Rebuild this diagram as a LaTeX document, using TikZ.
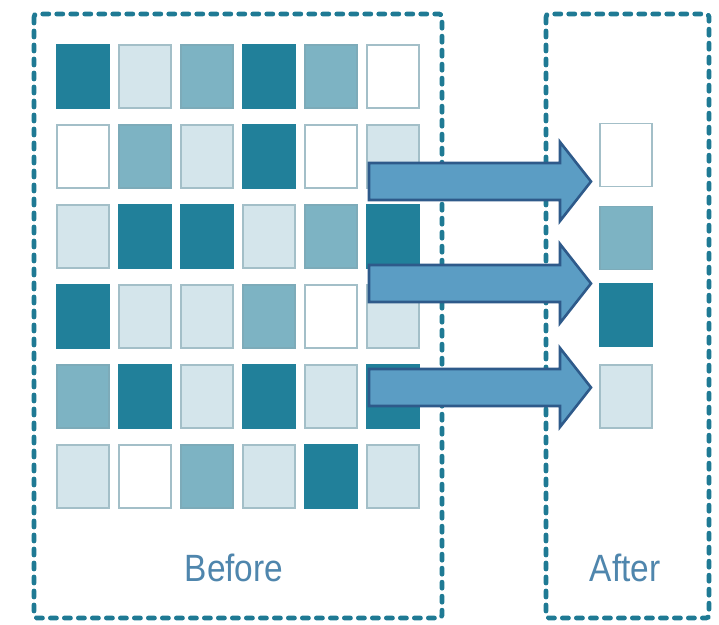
\documentclass[tikz,border=0pt]{standalone}
\usepackage{fontspec}
\setmainfont{Liberation Sans}
\definecolor{cdark}{HTML}{21809A}
\definecolor{cmed}{HTML}{7DB3C3}
\definecolor{clight}{HTML}{D4E5EB}
\definecolor{cline}{HTML}{A3BFC8}
\definecolor{cbox}{HTML}{1F7A94}
\definecolor{carrow}{HTML}{5B9DC4}
\definecolor{carrowline}{HTML}{2E5A8A}
\definecolor{ctext}{HTML}{4F86AD}
\tikzset{
  sq/.style={rectangle, minimum width=52pt, minimum height=63pt, inner sep=0pt, line width=1.5pt, draw=cline},
  D/.style={sq, fill=cdark, draw=cdark},
  M/.style={sq, fill=cmed, draw=cmed!85!gray},
  L/.style={sq, fill=clight},
  W/.style={sq, fill=white},
  dbox/.style={draw=cbox, line width=4.8pt, line cap=round, dash pattern=on 6pt off 8pt, rounded corners=3pt},
  bigarr/.style={fill=carrow, draw=carrowline, line width=2.6pt, line join=miter},
  lbl/.style={text=ctext, font=\fontsize{38}{40}\selectfont, xscale=0.88, anchor=base}
}
\begin{document}
\begin{tikzpicture}[x=1pt,y=-1pt]
\useasboundingbox (0,0) rectangle (719,624);
\fill[white] (0,0) rectangle (719,624);
% dashed frames
\draw[dbox] (34,14) rectangle (442,618);
\draw[dbox] (546,14) rectangle (709,618);
% grid
\foreach \r/\y/\row in {1/76.5/{D,L,M,D,M,W},2/156.5/{W,M,L,D,W,L},3/236.5/{L,D,D,L,M,D},4/316.5/{D,L,L,M,W,L},5/396.5/{M,D,L,D,L,D},6/476.5/{L,W,M,L,D,L}}{
  \foreach \s [count=\c] in \row {
    \node[\s] (b\r\c) at ({83+62*(\c-1)},\y) {};
  }
}
% after column
\node[W] (a1) at (626,155) {};
\node[M] (a2) at (626,238) {};
\node[D] (a3) at (626,315) {};
\node[L] (a4) at (626,396.5) {};
% arrows
\foreach \cy in {181.5,283.5,387.5}{
  \draw[bigarr] (369,\cy-18.5) -- (560,\cy-18.5) -- (560,\cy-39.5) -- (591,\cy) -- (560,\cy+39.5) -- (560,\cy+18.5) -- (369,\cy+18.5) -- cycle;
}
% labels
\node[lbl] (before) at (234,581) {Before};
\node[lbl] (after) at (625,581) {After};
\end{tikzpicture}
\end{document}
